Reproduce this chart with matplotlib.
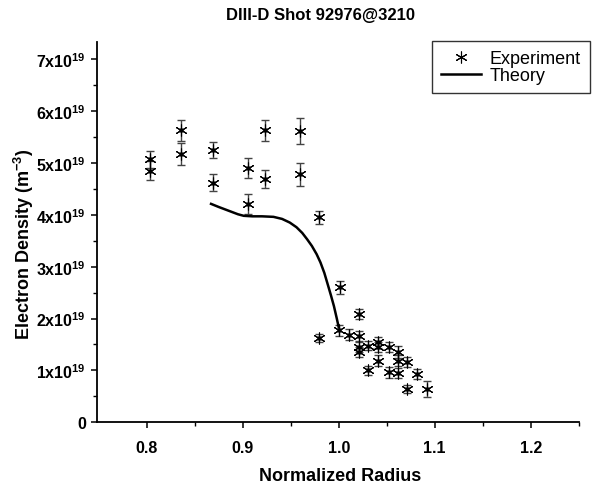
import matplotlib
matplotlib.use("Agg")
import matplotlib.pyplot as plt
from matplotlib.ticker import MultipleLocator, FixedLocator, FixedFormatter
from matplotlib.lines import Line2D

plt.rcParams['font.family'] = ['Liberation Sans', 'DejaVu Sans']
plt.rcParams['mathtext.fontset'] = 'custom'
plt.rcParams['mathtext.rm'] = 'Liberation Sans:bold'
plt.rcParams['mathtext.bf'] = 'Liberation Sans:bold'
plt.rcParams['mathtext.default'] = 'bf'

# Experiment data (normalized radius, density in 1e19 m^-3, error in 1e19)
exp_x = [0.803, 0.803, 0.836, 0.836, 0.869, 0.869, 0.905, 0.905, 0.923, 0.923,
         0.960, 0.960, 0.979, 0.979, 1.001, 1.021, 1.000, 1.011, 1.021, 1.021,
         1.021, 1.031, 1.041, 1.041, 1.041, 1.031, 1.052, 1.062, 1.062, 1.071,
         1.052, 1.062, 1.082, 1.071, 1.092]
exp_y = [5.07, 4.85, 5.63, 5.17, 5.25, 4.62, 4.90, 4.21, 5.63, 4.69,
         5.61, 4.78, 3.95, 1.62, 2.60, 2.09, 1.77, 1.69, 1.66, 1.45,
         1.35, 1.48, 1.54, 1.45, 1.19, 1.00, 1.45, 1.36, 1.19, 1.16,
         0.96, 0.95, 0.93, 0.64, 0.64]
exp_err = [0.16, 0.18, 0.20, 0.21, 0.16, 0.16, 0.19, 0.19, 0.20, 0.18,
           0.25, 0.22, 0.13, 0.08, 0.13, 0.10, 0.10, 0.10, 0.10, 0.10,
           0.10, 0.08, 0.10, 0.10, 0.10, 0.08, 0.10, 0.12, 0.10, 0.10,
           0.10, 0.10, 0.10, 0.08, 0.15]

# Theory curve
th_x = [0.867, 0.875, 0.885, 0.895, 0.901, 0.910, 0.920, 0.932, 0.941, 0.949,
        0.956, 0.962, 0.967, 0.972, 0.977, 0.981, 0.985, 0.989, 0.992, 0.995,
        0.998, 1.000]
th_y = [4.21, 4.15, 4.08, 4.01, 3.98, 3.97, 3.97, 3.96, 3.92, 3.85,
        3.76, 3.65, 3.53, 3.40, 3.24, 3.08, 2.88, 2.63, 2.44, 2.24,
        2.00, 1.83]

y_ticks = [0, 1, 2, 3, 4, 5, 6, 7]
y_ticklabels = ['0'] + [f'{v}x10$^{{19}}$' for v in y_ticks[1:]]
x_ticks = [0.8, 0.9, 1.0, 1.1, 1.2]
x_ticklabels = ['0.8', '0.9', '1.0', '1.1', '1.2']

W, H = 605, 485
fig = plt.figure(figsize=(6.05, 4.85), dpi=100)
ax = fig.add_axes([97.3/W, 1 - 423.3/H, (578.7-97.3)/W, (423.3-43)/H])

ax.errorbar(exp_x, exp_y, yerr=exp_err, fmt='none', ecolor='#444444',
            elinewidth=1.0, capsize=3, capthick=1.0, zorder=2)
ax.plot(exp_x, exp_y, linestyle='none', marker=(6, 2, 0), markersize=8.5,
        markeredgewidth=0.8, color='black', zorder=3)
ax.plot(exp_x, exp_y, linestyle='none', marker='o', markersize=2.3,
        color='black', zorder=4)
ax.plot(th_x, th_y, color='black', linewidth=1.8, zorder=5)

ax.set_xlim(0.7485, 1.25)
ax.set_ylim(0, 7.33)

ax.xaxis.set_major_locator(FixedLocator(x_ticks))
ax.xaxis.set_major_formatter(FixedFormatter(x_ticklabels))
ax.xaxis.set_minor_locator(FixedLocator([0.85, 0.95, 1.05, 1.15, 1.25]))
ax.yaxis.set_major_locator(FixedLocator(y_ticks))
ax.yaxis.set_major_formatter(FixedFormatter(y_ticklabels))
ax.yaxis.set_minor_locator(MultipleLocator(0.5))

ax.spines['top'].set_visible(False)
ax.spines['right'].set_visible(False)
ax.spines['left'].set_linewidth(1.3)
ax.spines['bottom'].set_linewidth(1.3)
ax.tick_params(which='major', length=4.5, width=1.1, direction='out')
ax.tick_params(which='minor', length=3, width=1.0, direction='out')
ax.tick_params(axis='x', which='major', pad=8.5)
ax.tick_params(axis='y', which='major', pad=3.5)
for lab in ax.get_xticklabels() + ax.get_yticklabels():
    lab.set_fontweight('bold')
    lab.set_fontsize(11.5)

ax.set_xlabel('Normalized Radius', fontsize=13, fontweight='bold')
ax.xaxis.set_label_coords(0.5 * (258 + 422) / W, 1 - 477 / H, transform=fig.transFigure)
ax.xaxis.label.set_va('center')
ax.set_ylabel('Electron Density (m$^{-3}$)', fontsize=13, fontweight='bold')
ax.yaxis.set_label_coords(23.5 / W, 1 - 244 / H, transform=fig.transFigure)
ax.yaxis.label.set_va('center')
fig.text(321 / W, 1 - 15.5 / H, 'DIII-D Shot 92976@3210', ha='center', va='center',
         fontsize=12, fontweight='bold')

handles = [Line2D([], [], linestyle='none', marker=(6, 2, 0), markersize=8.5,
                  markeredgewidth=0.8, color='black'),
           Line2D([], [], color='black', linewidth=1.8)]
leg = ax.legend(handles, ['Experiment', 'Theory'], loc='upper left',
                bbox_to_anchor=(432 / W, 1 - 42 / H), bbox_transform=fig.transFigure,
                borderaxespad=0, fontsize=13, frameon=True, fancybox=False,
                edgecolor='black', handlelength=2.2, borderpad=0.5,
                labelspacing=0.0, handletextpad=0.5)
leg.get_frame().set_linewidth(1.0)

fig.savefig('out.png', dpi=100)
